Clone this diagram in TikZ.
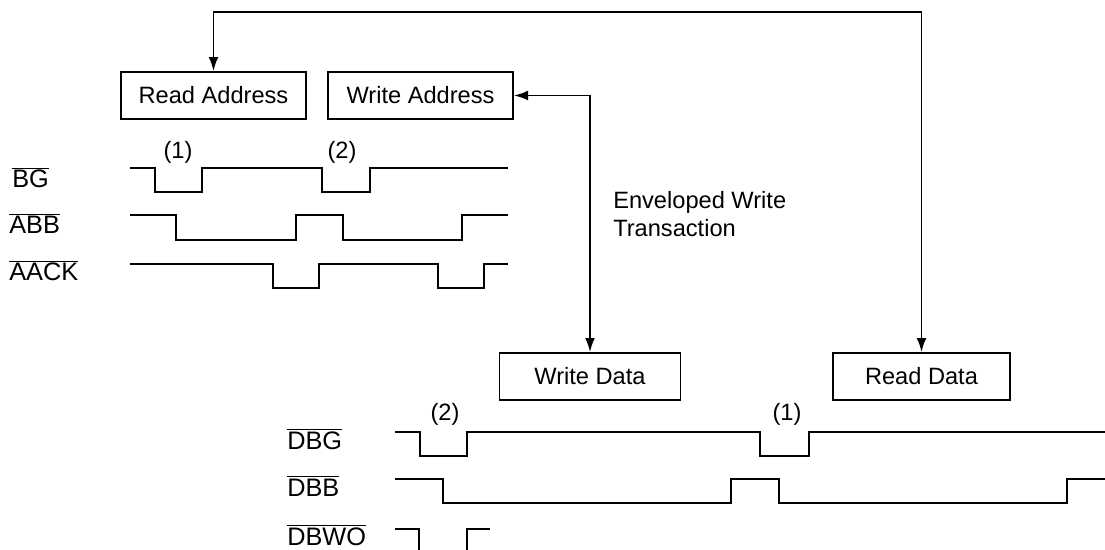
\documentclass[tikz,border=0pt]{standalone}
\usepackage{fontspec}
\setmainfont{Liberation Sans}
\usetikzlibrary{arrows.meta}
\tikzset{
  blk/.style={draw, line width=1.3pt, minimum height=1.175cm, inner sep=0pt},
  sig/.style={line width=1.3pt},
  lab/.style={anchor=base west, inner sep=0pt, font=\fontsize{18}{21}\selectfont},
}
\newcommand{\ovl}[1]{$\overline{\hbox{#1}}$}

\begin{document}
\begin{tikzpicture}[x=0.025cm, y=-0.025cm, font=\fontsize{16.8}{20}\selectfont, >={Latex[length=10pt,width=7pt]}]
    \useasboundingbox (0,0) rectangle (1105,550);
    % transaction blocks
    \node[blk, minimum width=4.625cm] (ra) at (213.5,95.5) {Read Address};
    \node[blk, minimum width=4.625cm] (wa) at (420.5,95.5) {Write Address};
    \node[blk, minimum width=4.525cm] (wd) at (590,376.5) {Write Data};
    \node[blk, minimum width=4.425cm] (rd) at (921.5,376.5) {Read Data};
    \coordinate (top) at (567,12);
    \draw[sig,<->] (ra.north) -- (ra.north |- top) -- (rd.north |- top) -- (rd.north);
    \draw[sig,<->] (wa.east) -| (wd.north);
    \node[anchor=west, align=left, inner sep=0pt, font=\fontsize{16.8}{20}\selectfont] (env) at (613,214) {Enveloped Write\\Transaction};
    % address bus
    \node[lab] (lbg) at (12,188) {\ovl{BG}};
    \node[lab] (labb) at (9,234) {\ovl{ABB}};
    \node[lab] (laack) at (9,281) {\ovl{AACK}};
    \node (n1) at (178,152) {(1)};
    \node (n2) at (342,152) {(2)};
    \draw[sig] (130,168) -- (155,168) -- (155,192) -- (202,192) -- (202,168) -- (322,168) -- (322,192) -- (370,192) -- (370,168) -- (508,168);
    \draw[sig] (130,215) -- (176,215) -- (176,240) -- (296,240) -- (296,215) -- (343,215) -- (343,240) -- (462,240) -- (462,215) -- (508,215);
    \draw[sig] (130,264) -- (273,264) -- (273,288) -- (319,288) -- (319,264) -- (438,264) -- (438,288) -- (484,288) -- (484,264) -- (508,264);
    % data bus
    \node[lab] (ldbg) at (287,449) {\ovl{DBG}};
    \node[lab] (ldbb) at (287,496) {\ovl{DBB}};
    \node[lab] (ldbwo) at (287,545) {\ovl{DBWO}};
    \node (m2) at (445,414) {(2)};
    \node (m1) at (787,414) {(1)};
    \draw[sig] (395,432) -- (420,432) -- (420,456) -- (467,456) -- (467,432) -- (760,432) -- (760,456) -- (809,456) -- (809,432) -- (1105,432);
    \draw[sig] (395,479) -- (443,479) -- (443,503) -- (731,503) -- (731,479) -- (779,479) -- (779,503) -- (1067,503) -- (1067,479) -- (1105,479);
    \draw[sig] (395,529) -- (419,529) -- (419,550);
    \draw[sig] (467,550) -- (467,529) -- (490,529);
\end{tikzpicture}
\end{document}
